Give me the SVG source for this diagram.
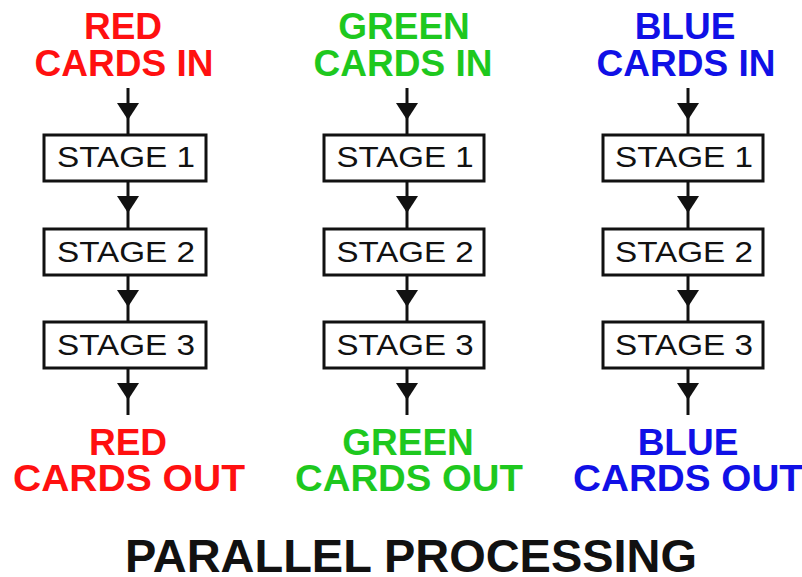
<svg xmlns="http://www.w3.org/2000/svg" width="802" height="577" viewBox="0 0 802 577">
<style>
.lbl{font-family:"Liberation Sans",Arial,sans-serif;font-weight:bold;font-size:37px;text-anchor:middle}
.red{fill:#ff1010}.green{fill:#1ec81e}.blue{fill:#1010e6}
.stage{font-family:"Liberation Sans",Arial,sans-serif;font-size:29px;fill:#111;text-anchor:middle}
.box{fill:#fff;stroke:#111;stroke-width:3}
.conn{fill:none;stroke:#111;stroke-width:3;marker-mid:url(#tri)}
.title{font-family:"Liberation Sans",Arial,sans-serif;font-weight:bold;font-size:46px;fill:#111;text-anchor:middle}
</style>
<defs>
<marker id="tri" markerUnits="userSpaceOnUse" markerWidth="18" markerHeight="24" refX="17" refY="11" orient="auto" viewBox="0 0 18 22">
<path d="M0,0 L17,11 L0,22 Z" fill="#111"/>
</marker>
</defs>
<rect width="802" height="577" fill="#fff"/>
<g id="connectors">
<path class="conn" d="M128,88 L128,120 L128,134"/>
<path class="conn" d="M128,182 L128,213 L128,228"/>
<path class="conn" d="M128,276 L128,307 L128,321"/>
<path class="conn" d="M128,369 L128,400 L128,415"/>
<path class="conn" d="M407,88 L407,120 L407,134"/>
<path class="conn" d="M407,182 L407,213 L407,228"/>
<path class="conn" d="M407,276 L407,307 L407,321"/>
<path class="conn" d="M407,369 L407,400 L407,415"/>
<path class="conn" d="M688,88 L688,120 L688,134"/>
<path class="conn" d="M688,182 L688,213 L688,228"/>
<path class="conn" d="M688,276 L688,307 L688,321"/>
<path class="conn" d="M688,369 L688,400 L688,415"/>
</g>
<g id="red-in"><text class="lbl red" x="123" y="39">RED</text><text class="lbl red" x="124" y="76">CARDS IN</text></g>
<g id="green-in"><text class="lbl green" x="404" y="39">GREEN</text><text class="lbl green" x="403" y="76">CARDS IN</text></g>
<g id="blue-in"><text class="lbl blue" x="685" y="39">BLUE</text><text class="lbl blue" x="686" y="76">CARDS IN</text></g>
<g id="red-s1"><rect class="box" x="44" y="135" width="162" height="46"/><text class="stage" x="126" y="167" textLength="138" lengthAdjust="spacingAndGlyphs">STAGE 1</text></g>
<g id="red-s2"><rect class="box" x="44" y="229" width="162" height="46"/><text class="stage" x="126" y="262" textLength="138" lengthAdjust="spacingAndGlyphs">STAGE 2</text></g>
<g id="red-s3"><rect class="box" x="44" y="322" width="162" height="46"/><text class="stage" x="126" y="355" textLength="138" lengthAdjust="spacingAndGlyphs">STAGE 3</text></g>
<g id="green-s1"><rect class="box" x="324" y="135" width="160" height="46"/><text class="stage" x="405" y="167" textLength="137" lengthAdjust="spacingAndGlyphs">STAGE 1</text></g>
<g id="green-s2"><rect class="box" x="324" y="229" width="160" height="46"/><text class="stage" x="405" y="262" textLength="137" lengthAdjust="spacingAndGlyphs">STAGE 2</text></g>
<g id="green-s3"><rect class="box" x="324" y="322" width="160" height="46"/><text class="stage" x="405" y="355" textLength="137" lengthAdjust="spacingAndGlyphs">STAGE 3</text></g>
<g id="blue-s1"><rect class="box" x="603" y="135" width="160" height="46"/><text class="stage" x="684" y="167" textLength="138" lengthAdjust="spacingAndGlyphs">STAGE 1</text></g>
<g id="blue-s2"><rect class="box" x="603" y="229" width="160" height="46"/><text class="stage" x="684" y="262" textLength="138" lengthAdjust="spacingAndGlyphs">STAGE 2</text></g>
<g id="blue-s3"><rect class="box" x="603" y="322" width="160" height="46"/><text class="stage" x="684" y="355" textLength="138" lengthAdjust="spacingAndGlyphs">STAGE 3</text></g>
<g id="red-out"><text class="lbl red" x="128" y="455">RED</text><text class="lbl red" x="129" y="491" textLength="232" lengthAdjust="spacingAndGlyphs">CARDS OUT</text></g>
<g id="green-out"><text class="lbl green" x="408" y="455">GREEN</text><text class="lbl green" x="409" y="491" textLength="228" lengthAdjust="spacingAndGlyphs">CARDS OUT</text></g>
<g id="blue-out"><text class="lbl blue" x="688" y="455">BLUE</text><text class="lbl blue" x="688" y="491" textLength="230" lengthAdjust="spacingAndGlyphs">CARDS OUT</text></g>
<g id="title"><text class="title" x="411" y="572" textLength="572" lengthAdjust="spacingAndGlyphs">PARALLEL PROCESSING</text></g>
</svg>
